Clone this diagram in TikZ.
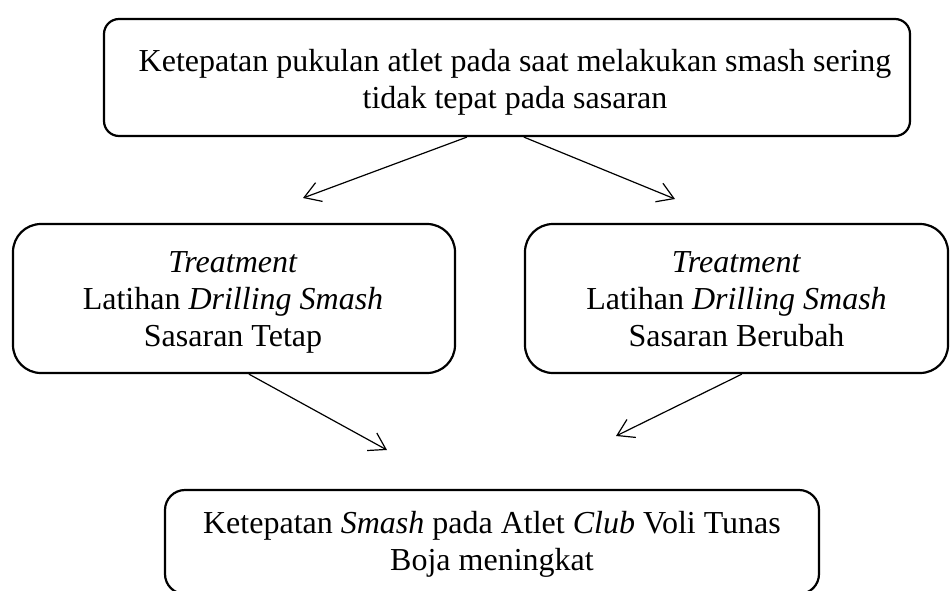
\documentclass[tikz,border=0pt]{standalone}
\usepackage{fontspec}
\setmainfont{Liberation Serif}
\usetikzlibrary{arrows.meta,calc}
\begin{document}
\begin{tikzpicture}[x=1pt,y=-1pt,
  boxshape/.style={draw,line width=2.2pt,rounded corners=#1,inner sep=0pt},
  txt/.style={align=center,inner sep=0pt,font=\fontsize{32}{37}\selectfont},
  arr/.style={line width=1.2pt,-{Straight Barb[length=16pt,width=20pt,line width=1.2pt]}}]
\useasboundingbox (0,0) rectangle (950,590);
% boxes
\node[boxshape=15pt,minimum width=806pt,minimum height=117pt] (top) at (507,77.5) {};
\node[boxshape=28pt,minimum width=442pt,minimum height=149pt] (left) at (234,298.5) {};
\node[boxshape=28pt,minimum width=423pt,minimum height=149pt] (right) at (736.5,298.5) {};
\node[boxshape=20pt,minimum width=654pt,minimum height=104pt] (bottom) at (492,542) {};
% texts
\node[txt] (toptxt) at (515,82) {Ketepatan pukulan atlet pada saat melakukan smash sering\\tidak tepat pada sasaran};
\node[txt,anchor=north] (lefttxt) at (233,251) {\textit{Treatment}\\Latihan \textit{Drilling Smash}\\Sasaran Tetap};
\node[txt,anchor=north] (righttxt) at (736.5,251) {\textit{Treatment}\\Latihan \textit{Drilling Smash}\\Sasaran Berubah};
\node[txt] (bottxt) at (492,544) {Ketepatan \textit{Smash} pada Atlet \textit{Club} Voli Tunas\\Boja meningkat};
% arrow ends
\coordinate (e1) at (303,198);
\coordinate (e2) at (675,199);
\coordinate (e3) at (387,450);
\coordinate (e4) at (616,436);
\draw[arr] ([xshift=364pt]top.south west) -- (e1);
\draw[arr] ([xshift=421pt]top.south west) -- (e2);
\draw[arr] ([xshift=237pt]left.south west) -- (e3);
\draw[arr] ([xshift=218pt]right.south west) -- (e4);
\end{tikzpicture}
\end{document}
